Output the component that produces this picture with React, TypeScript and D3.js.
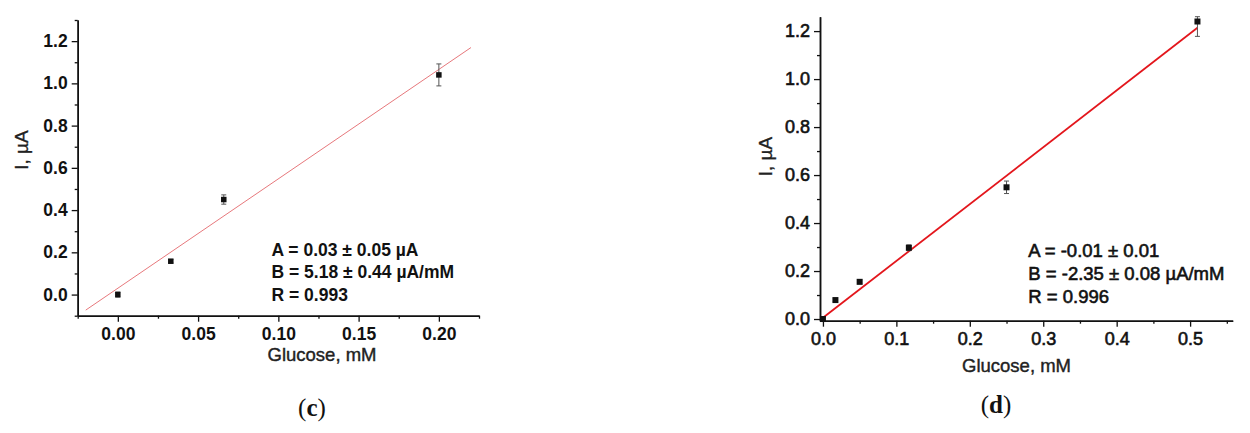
import { useEffect, useRef } from 'react'
import * as d3 from 'd3'

// panel (c)
const cGlucose = [0, 0.033, 0.066, 0.2]
const cCurrent = [0.0, 0.158, 0.45, 1.04]
const cError = [0.012, 0.008, 0.022, 0.052]
const cFit = { a: 0.03, b: 5.18, from: -0.02, to: 0.22 }
const cXTicks = [0, 0.05, 0.1, 0.15, 0.2]
const cXMinor = [-0.025, 0.025, 0.075, 0.125, 0.175, 0.225]
const cYTicks = [0, 0.2, 0.4, 0.6, 0.8, 1.0, 1.2]
const cYMinor = [-0.1, 0.1, 0.3, 0.5, 0.7, 0.9, 1.1, 1.3]
const cNotes = ['A = 0.03 ± 0.05 µA', 'B = 5.18 ± 0.44 µA/mM', 'R = 0.993']

// panel (d)
const dGlucose = [0, 0.017, 0.05, 0.117, 0.25, 0.51]
const dCurrent = [0.0, 0.079, 0.155, 0.297, 0.549, 1.24]
const dError = [0.006, 0.006, 0.008, 0.012, 0.026, 0.062]
const dFit = { a: 0.005, b: 2.37, from: 0, to: 0.51 }
const dXTicks = [0, 0.1, 0.2, 0.3, 0.4, 0.5]
const dXMinor = [0.05, 0.15, 0.25, 0.35, 0.45, 0.55]
const dYTicks = [0, 0.2, 0.4, 0.6, 0.8, 1.0, 1.2]
const dYMinor = [0.1, 0.3, 0.5, 0.7, 0.9, 1.1]
const dNotes = ['A = -0.01 ± 0.01', 'B = -2.35 ± 0.08 µA/mM', 'R = 0.996']

const FONT = '"Liberation Sans", Arial, sans-serif'

type Panel = {
  xs: number[]
  ys: number[]
  err: number[]
  fit: { a: number; b: number; from: number; to: number }
  xDomain: [number, number]
  yDomain: [number, number]
  xRange: [number, number]
  yRange: [number, number]
  xTicks: number[]
  xMinor: number[]
  yTicks: number[]
  yMinor: number[]
  xFmt: string
  notes: string[]
  noteX: number
  noteY: number
  noteGap: number
  noteSize: number
  tickWeight: number
  tickSize: number
  heavy: number
  lineColor: string
  lineWidth: number
  markSize: number
  xTitle: [number, number]
  yTitle: [number, number]
  caption: string
  captionAt: [number, number]
}

function drawPanel(svg: d3.Selection<SVGSVGElement, unknown, null, undefined>, p: Panel) {
  const x = d3.scaleLinear().domain(p.xDomain).range(p.xRange)
  const y = d3.scaleLinear().domain(p.yDomain).range(p.yRange)
  const g = svg.append('g')

  const styleAxis = (sel: any, labels: boolean) => {
    sel.select('.domain').attr('stroke', '#111').attr('stroke-width', 1.5)
    sel.selectAll('.tick line').attr('stroke', '#111').attr('stroke-width', 1.3)
    if (labels) {
      sel
        .selectAll('text')
        .attr('fill', '#111')
        .attr('stroke', '#111')
        .attr('stroke-width', p.heavy)
        .attr('font-family', FONT)
        .attr('font-size', p.tickSize)
        .attr('font-weight', p.tickWeight)
    }
  }

  // minor ticks
  g.append('g')
    .attr('transform', `translate(0,${p.yRange[0]})`)
    .call(d3.axisBottom(x).tickValues(p.xMinor).tickSize(3).tickSizeOuter(0).tickFormat(() => ''))
    .call((s) => styleAxis(s, false))
  g.append('g')
    .attr('transform', `translate(${p.xRange[0]},0)`)
    .call(d3.axisLeft(y).tickValues(p.yMinor).tickSize(3).tickSizeOuter(0).tickFormat(() => ''))
    .call((s) => styleAxis(s, false))

  // major ticks
  g.append('g')
    .attr('transform', `translate(0,${p.yRange[0]})`)
    .call(d3.axisBottom(x).tickValues(p.xTicks).tickSize(6).tickSizeOuter(0).tickPadding(6).tickFormat(d3.format(p.xFmt)))
    .call((s) => styleAxis(s, true))
  g.append('g')
    .attr('transform', `translate(${p.xRange[0]},0)`)
    .call(d3.axisLeft(y).tickValues(p.yTicks).tickSize(6).tickSizeOuter(0).tickPadding(4).tickFormat(d3.format('.1f')))
    .call((s) => styleAxis(s, true))

  // fit line
  const line = d3
    .line<number>()
    .x((d) => x(d))
    .y((d) => y(p.fit.a + p.fit.b * d))
  g.append('path')
    .datum([p.fit.from, p.fit.to])
    .attr('d', line)
    .attr('fill', 'none')
    .attr('stroke', p.lineColor)
    .attr('stroke-width', p.lineWidth)

  // error bars
  const cap = 2.5
  p.xs.forEach((xv, i) => {
    const top = Math.max(y(p.ys[i] + p.err[i]), p.yRange[1])
    const bot = y(p.ys[i] - p.err[i])
    const cx = x(xv)
    const eb = g.append('g').attr('stroke', '#555').attr('stroke-width', 1)
    eb.append('line').attr('x1', cx).attr('x2', cx).attr('y1', top).attr('y2', bot)
    eb.append('line').attr('x1', cx - cap).attr('x2', cx + cap).attr('y1', top).attr('y2', top)
    eb.append('line').attr('x1', cx - cap).attr('x2', cx + cap).attr('y1', bot).attr('y2', bot)
  })

  // markers
  g.selectAll('rect.pt')
    .data(p.xs)
    .join('rect')
    .attr('class', 'pt')
    .attr('x', (d) => x(d) - p.markSize / 2)
    .attr('y', (_, i) => y(p.ys[i]) - p.markSize / 2)
    .attr('width', p.markSize)
    .attr('height', p.markSize)
    .attr('fill', '#111')

  // regression text
  p.notes.forEach((t, i) => {
    g.append('text')
      .attr('x', p.noteX)
      .attr('y', p.noteY + i * p.noteGap)
      .attr('font-family', FONT)
      .attr('font-size', p.noteSize)
      .attr('font-weight', p.tickWeight)
      .attr('fill', '#111')
      .attr('stroke', '#111')
      .attr('stroke-width', p.heavy)
      .text(t)
  })

  // axis titles
  g.append('text')
    .attr('x', p.xTitle[0])
    .attr('y', p.xTitle[1])
    .attr('text-anchor', 'middle')
    .attr('font-family', FONT)
    .attr('font-size', 18.5)
    .attr('fill', '#222')
    .attr('stroke', '#222')
    .attr('stroke-width', 0.4)
    .text('Glucose, mM')
  g.append('text')
    .attr('transform', `translate(${p.yTitle[0]},${p.yTitle[1]}) rotate(-90)`)
    .attr('text-anchor', 'middle')
    .attr('dy', '0.35em')
    .attr('font-family', FONT)
    .attr('font-size', 19)
    .attr('fill', '#222')
    .attr('stroke', '#222')
    .attr('stroke-width', 0.3)
    .text('I, µA')

  // caption
  const cp = g
    .append('text')
    .attr('x', p.captionAt[0])
    .attr('y', p.captionAt[1])
    .attr('text-anchor', 'middle')
    .attr('font-family', '"Liberation Serif", "Times New Roman", serif')
    .attr('font-size', 25)
    .attr('fill', '#111')
  cp.append('tspan').text('(')
  cp.append('tspan').attr('font-weight', 700).text(p.caption)
  cp.append('tspan').text(')')
}

export default function App() {
  const ref = useRef<SVGSVGElement>(null)

  useEffect(() => {
    if (!ref.current) return
    const svg = d3.select(ref.current)
    svg.selectAll('*').remove()

    drawPanel(svg, {
      xs: cGlucose,
      ys: cCurrent,
      err: cError,
      fit: cFit,
      xDomain: [-0.025, 0.225],
      yDomain: [-0.1, 1.3],
      xRange: [77.7, 479],
      yRange: [315.7, 20],
      xTicks: cXTicks,
      xMinor: cXMinor,
      yTicks: cYTicks,
      yMinor: cYMinor,
      xFmt: '.2f',
      notes: cNotes,
      noteX: 271.5,
      noteY: 256,
      noteGap: 22.3,
      noteSize: 17.5,
      tickWeight: 700,
      tickSize: 17.5,
      heavy: 0,
      lineColor: '#e7787c',
      lineWidth: 1,
      markSize: 5.5,
      xTitle: [322, 361],
      yTitle: [21.5, 150],
      caption: 'c',
      captionAt: [312, 416],
    })

    drawPanel(svg, {
      xs: dGlucose,
      ys: dCurrent,
      err: dError,
      fit: dFit,
      xDomain: [-0.004, 0.558],
      yDomain: [-0.007, 1.26],
      xRange: [820, 1232.7],
      yRange: [320.7, 16.7],
      xTicks: dXTicks,
      xMinor: dXMinor,
      yTicks: dYTicks,
      yMinor: dYMinor,
      xFmt: '.1f',
      notes: dNotes,
      noteX: 1028.3,
      noteY: 256.7,
      noteGap: 23.3,
      noteSize: 18.5,
      tickWeight: 400,
      tickSize: 18,
      heavy: 0.6,
      lineColor: '#e3161c',
      lineWidth: 1.8,
      markSize: 6,
      xTitle: [1016.5, 372],
      yTitle: [765, 156.5],
      caption: 'd',
      captionAt: [996, 413],
    })
  }, [])

  return (
    <svg
      ref={ref}
      width={1250}
      height={433}
      style={{ position: 'absolute', left: 0, top: 0, background: '#fff' }}
    />
  )
}
